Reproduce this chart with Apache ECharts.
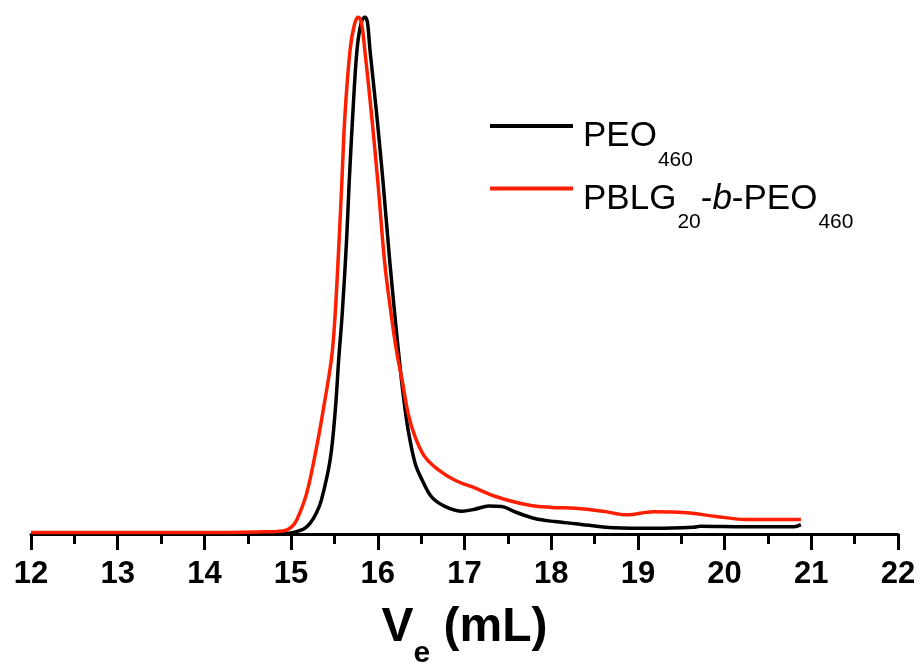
<!DOCTYPE html>
<html>
<head>
<meta charset="utf-8">
<script src="https://cdn.jsdelivr.net/npm/echarts@6/dist/echarts.min.js"></script>
<style>
  html, body { margin: 0; padding: 0; background: #fff; }
  #chart { width: 923px; height: 666px; }
</style>
</head>
<body>
<div id="chart"></div>
<script>
// ---- data ----
const xTicks = [12, 13, 14, 15, 16, 17, 18, 19, 20, 21, 22];

const seriesNames = ['PEO460', 'PBLG20-b-PEO460'];

// PEO460 (black) : elution volume (mL) and normalised signal
const peoX = [12.0, 13.0, 14.0, 14.7, 14.95, 15.05, 15.15, 15.22, 15.29, 15.35, 15.45, 15.51, 15.55, 15.59, 15.64, 15.67, 15.71, 15.76, 15.81, 15.85, 15.88, 15.91, 15.99, 16.06, 16.14, 16.24, 16.30, 16.35, 16.43, 16.51, 16.62, 16.78, 16.97, 17.12, 17.28, 17.43, 17.58, 17.81, 18.04, 18.28, 18.72, 19.20, 19.64, 19.72, 20.25, 20.80, 20.88];
const peoY = [0.000, 0.000, 0.000, 0.000, 0.001, 0.004, 0.010, 0.021, 0.040, 0.066, 0.143, 0.240, 0.340, 0.427, 0.569, 0.680, 0.807, 0.936, 0.990, 1.000, 0.990, 0.936, 0.807, 0.682, 0.524, 0.350, 0.260, 0.201, 0.137, 0.105, 0.072, 0.053, 0.044, 0.048, 0.054, 0.053, 0.043, 0.030, 0.024, 0.020, 0.012, 0.011, 0.013, 0.015, 0.014, 0.014, 0.018];

// PBLG20-b-PEO460 (red)
const blockX = [12.0, 13.0, 14.0, 14.6, 14.91, 15.0, 15.065, 15.18, 15.295, 15.39, 15.47, 15.51, 15.55, 15.585, 15.62, 15.68, 15.73, 15.775, 15.81, 15.85, 15.93, 16.0, 16.08, 16.15, 16.22, 16.28, 16.35, 16.43, 16.54, 16.70, 16.89, 17.12, 17.35, 17.58, 17.81, 18.05, 18.28, 18.60, 18.87, 19.18, 19.56, 19.90, 20.25, 20.88];
const blockY = [0.003, 0.003, 0.003, 0.004, 0.006, 0.013, 0.027, 0.079, 0.169, 0.259, 0.345, 0.430, 0.556, 0.679, 0.807, 0.936, 0.985, 1.000, 0.990, 0.936, 0.807, 0.682, 0.524, 0.430, 0.350, 0.298, 0.233, 0.188, 0.150, 0.124, 0.104, 0.089, 0.073, 0.062, 0.054, 0.051, 0.050, 0.044, 0.037, 0.043, 0.041, 0.034, 0.028, 0.028];

// ---- build ----
const FONT = 'Liberation Sans, Arial, sans-serif';
const pairs = (xs, ys) => xs.map((x, i) => [x, ys[i]]);

const chart = echarts.init(document.getElementById('chart'), null, { renderer: 'canvas' });

const legendRich = {
  f: { fontSize: 35, fontFamily: FONT, color: '#000', lineHeight: 36, verticalAlign: 'top', padding: [11, 0, 11, 5] },
  a: { fontSize: 35, fontFamily: FONT, color: '#000', lineHeight: 36, verticalAlign: 'top', padding: [11, 0, 11, 0] },
  i: { fontSize: 35, fontFamily: FONT, color: '#000', fontStyle: 'italic', lineHeight: 36, verticalAlign: 'top', padding: [11, 0, 11, 0] },
  s: { fontSize: 21, fontFamily: FONT, color: '#000', lineHeight: 16, verticalAlign: 'top', padding: [41.5, 0, 0, 1] }
};

const option = {
  backgroundColor: '#fff',
  animation: false,
  grid: { left: 31, right: 25, top: 17, bottom: 132, containLabel: false, outerBoundsMode: 'none' },
  legend: {
    orient: 'vertical',
    left: 490,
    top: 108,
    padding: 0,
    itemGap: 0,
    itemWidth: 83,
    itemHeight: 4,
    icon: 'rect',
    data: seriesNames,
    formatter: function (name) {
      if (name === seriesNames[0]) return '{f|PEO}{s|460}';
      return '{f|PBLG}{s|20}{a|-}{i|b}{a|-PEO}{s|460}';
    },
    textStyle: { rich: legendRich }
  },
  xAxis: {
    type: 'value',
    min: xTicks[0],
    max: xTicks[xTicks.length - 1],
    interval: 1,
    axisLine: { show: true, onZero: false, lineStyle: { color: '#000', width: 3 } },
    axisTick: { show: true, length: 16, lineStyle: { color: '#000', width: 3 } },
    minorTick: { show: true, splitNumber: 2, length: 10, lineStyle: { color: '#000', width: 3 } },
    splitLine: { show: false },
    axisLabel: { color: '#000', fontSize: 31, fontWeight: 'bold', fontFamily: FONT, margin: 25 },
    name: '{v|V}{e|e}{v| (mL)}',
    nameLocation: 'middle',
    nameGap: 70,
    nameTextStyle: {
      rich: {
        v: { fontSize: 48, fontWeight: 'bold', fontFamily: FONT, color: '#000', lineHeight: 50, verticalAlign: 'top' },
        e: { fontSize: 30, fontWeight: 'bold', fontFamily: FONT, color: '#000', lineHeight: 30, verticalAlign: 'top', padding: [35, 0, 0, 0] }
      }
    }
  },
  yAxis: {
    type: 'value',
    min: 0,
    max: 1,
    show: false
  },
  series: [
    {
      name: seriesNames[0],
      type: 'line',
      data: pairs(peoX, peoY),
      showSymbol: false,
      smooth: 0.35,
      lineStyle: { color: '#000', width: 3.5 },
      itemStyle: { color: '#000' },
      z: 2
    },
    {
      name: seriesNames[1],
      type: 'line',
      data: pairs(blockX, blockY),
      showSymbol: false,
      smooth: 0.35,
      lineStyle: { color: '#ff1e00', width: 3.5 },
      itemStyle: { color: '#ff1e00' },
      z: 3
    }
  ]
};

chart.setOption(option);
</script>
</body>
</html>
